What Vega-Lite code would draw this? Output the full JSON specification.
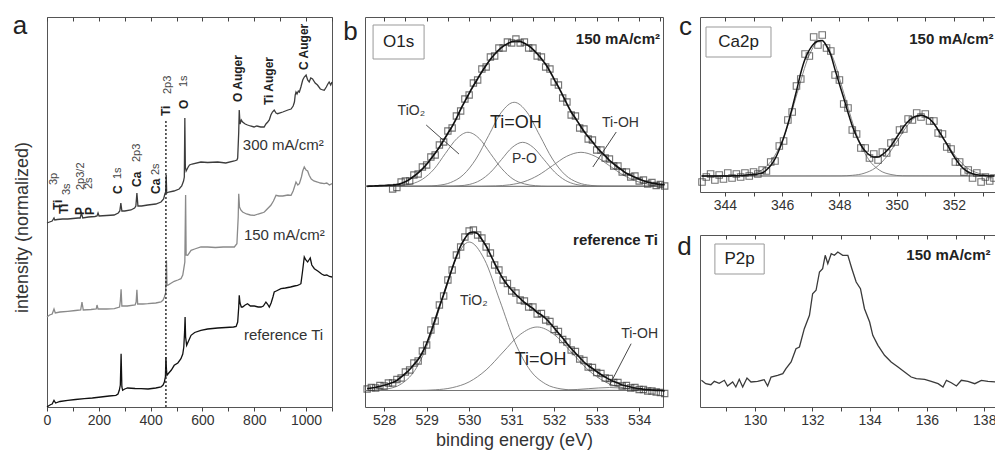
{
  "$schema": "https://vega.github.io/schema/vega-lite/v6.json",
  "padding": {"left": 12, "top": 12, "right": 0, "bottom": 0},
  "background": "white",
  "config": {
    "font": "Liberation Sans",
    "view": {"stroke": "#555", "strokeWidth": 1},
    "axis": {"domain": false, "grid": false, "tickColor": "#444", "tickSize": 4, "labelFontSize": 14, "labelColor": "#333", "labelPadding": 2, "titleFontWeight": "normal", "titleColor": "#333", "labelFlush": false, "labelOverlap": false, "minExtent": 0}
  },
  "datasets": {
    "specA": [
      {"s":"300","x":0,"y":184},{"s":"300","x":10,"y":185},{"s":"300","x":20,"y":186},{"s":"300","x":27,"y":189},{"s":"300","x":30,"y":187},{"s":"300","x":40,"y":187.5},{"s":"300","x":60,"y":188},{"s":"300","x":80,"y":188},{"s":"300","x":100,"y":188.5},{"s":"300","x":120,"y":189},{"s":"300","x":128,"y":189},{"s":"300","x":133,"y":194},{"s":"300","x":138,"y":189},{"s":"300","x":160,"y":190},{"s":"300","x":185,"y":190.5},{"s":"300","x":193,"y":191},{"s":"300","x":197,"y":194},{"s":"300","x":201,"y":191},{"s":"300","x":230,"y":191.5},{"s":"300","x":259,"y":192},{"s":"300","x":275,"y":194},{"s":"300","x":281,"y":196},{"s":"300","x":285,"y":204},{"s":"300","x":289,"y":196},{"s":"300","x":300,"y":196},{"s":"300","x":324,"y":197},{"s":"300","x":338,"y":199},{"s":"300","x":343,"y":201},{"s":"300","x":347,"y":214},{"s":"300","x":351,"y":201},{"s":"300","x":365,"y":201},{"s":"300","x":389,"y":202},{"s":"300","x":420,"y":203},{"s":"300","x":440,"y":205},{"s":"300","x":450,"y":208},{"s":"300","x":455,"y":213},{"s":"300","x":458,"y":215},{"s":"300","x":460,"y":232},{"s":"300","x":462,"y":214},{"s":"300","x":470,"y":215},{"s":"300","x":490,"y":216},{"s":"300","x":510,"y":218},{"s":"300","x":520,"y":221},{"s":"300","x":527,"y":226},{"s":"300","x":530,"y":230},{"s":"300","x":532,"y":289},{"s":"300","x":534,"y":240},{"s":"300","x":537,"y":236},{"s":"300","x":545,"y":240},{"s":"300","x":550,"y":242},{"s":"300","x":560,"y":243},{"s":"300","x":594,"y":245},{"s":"300","x":620,"y":244.5},{"s":"300","x":659,"y":245},{"s":"300","x":690,"y":244},{"s":"300","x":723,"y":246},{"s":"300","x":733,"y":247},{"s":"300","x":736,"y":249},{"s":"300","x":740,"y":275},{"s":"300","x":742,"y":297},{"s":"300","x":745,"y":283},{"s":"300","x":750,"y":287},{"s":"300","x":755,"y":285},{"s":"300","x":765,"y":283},{"s":"300","x":774,"y":282},{"s":"300","x":785,"y":281},{"s":"300","x":799,"y":280},{"s":"300","x":810,"y":281},{"s":"300","x":825,"y":280},{"s":"300","x":838,"y":280},{"s":"300","x":845,"y":283},{"s":"300","x":852,"y":285},{"s":"300","x":858,"y":287},{"s":"300","x":864,"y":292},{"s":"300","x":870,"y":295},{"s":"300","x":877,"y":297},{"s":"300","x":884,"y":294},{"s":"300","x":890,"y":293.3},{"s":"300","x":910,"y":295},{"s":"300","x":930,"y":297},{"s":"300","x":942,"y":298},{"s":"300","x":950,"y":301},{"s":"300","x":955,"y":305},{"s":"300","x":958,"y":312},{"s":"300","x":961,"y":315},{"s":"300","x":965,"y":313},{"s":"300","x":970,"y":316},{"s":"300","x":974,"y":315},{"s":"300","x":980,"y":320},{"s":"300","x":987,"y":327},{"s":"300","x":993,"y":330},{"s":"300","x":1000,"y":332},{"s":"300","x":1006,"y":327},{"s":"300","x":1012,"y":325},{"s":"300","x":1018,"y":329},{"s":"300","x":1025,"y":328},{"s":"300","x":1035,"y":324},{"s":"300","x":1044,"y":322},{"s":"300","x":1055,"y":318},{"s":"300","x":1065,"y":317},{"s":"300","x":1070,"y":316.7},{"s":"300","x":1078,"y":320},{"s":"300","x":1084,"y":323},{"s":"300","x":1089,"y":325},{"s":"300","x":1095,"y":322},{"s":"300","x":1100,"y":325},
      {"s":"150","x":0,"y":90},{"s":"150","x":10,"y":92},{"s":"150","x":20,"y":93},{"s":"150","x":27,"y":98},{"s":"150","x":32,"y":94},{"s":"150","x":50,"y":95},{"s":"150","x":80,"y":95.7},{"s":"150","x":110,"y":96.5},{"s":"150","x":130,"y":97},{"s":"150","x":135,"y":105},{"s":"150","x":140,"y":97},{"s":"150","x":170,"y":97.5},{"s":"150","x":190,"y":98},{"s":"150","x":193,"y":102},{"s":"150","x":197,"y":98},{"s":"150","x":230,"y":98},{"s":"150","x":260,"y":98.3},{"s":"150","x":280,"y":100},{"s":"150","x":283,"y":106},{"s":"150","x":286,"y":117.7},{"s":"150","x":289,"y":101},{"s":"150","x":310,"y":101},{"s":"150","x":340,"y":102},{"s":"150","x":344,"y":105},{"s":"150","x":347,"y":117.3},{"s":"150","x":350,"y":103},{"s":"150","x":370,"y":103},{"s":"150","x":389,"y":103.3},{"s":"150","x":420,"y":104},{"s":"150","x":440,"y":105},{"s":"150","x":448,"y":107},{"s":"150","x":453,"y":110},{"s":"150","x":458,"y":114},{"s":"150","x":461,"y":146.7},{"s":"150","x":463,"y":122},{"s":"150","x":466,"y":121.7},{"s":"150","x":480,"y":124},{"s":"150","x":491,"y":125.7},{"s":"150","x":505,"y":127},{"s":"150","x":517,"y":128.3},{"s":"150","x":524,"y":132},{"s":"150","x":528,"y":138.3},{"s":"150","x":532,"y":145},{"s":"150","x":535,"y":212},{"s":"150","x":537,"y":152},{"s":"150","x":543,"y":151.7},{"s":"150","x":556,"y":156.7},{"s":"150","x":570,"y":158},{"s":"150","x":594,"y":160},{"s":"150","x":620,"y":160},{"s":"150","x":650,"y":159.5},{"s":"150","x":680,"y":160},{"s":"150","x":700,"y":160},{"s":"150","x":723,"y":160},{"s":"150","x":733,"y":163.3},{"s":"150","x":738,"y":190},{"s":"150","x":740,"y":213.3},{"s":"150","x":743,"y":200},{"s":"150","x":748,"y":197},{"s":"150","x":755,"y":195},{"s":"150","x":770,"y":193},{"s":"150","x":785,"y":192},{"s":"150","x":800,"y":191.7},{"s":"150","x":815,"y":193},{"s":"150","x":830,"y":194},{"s":"150","x":839,"y":195},{"s":"150","x":850,"y":198},{"s":"150","x":864,"y":201.7},{"s":"150","x":874,"y":206},{"s":"150","x":884,"y":211.7},{"s":"150","x":895,"y":211},{"s":"150","x":910,"y":211},{"s":"150","x":930,"y":212},{"s":"150","x":942,"y":211.7},{"s":"150","x":950,"y":216},{"s":"150","x":955,"y":220},{"s":"150","x":961,"y":225},{"s":"150","x":968,"y":222},{"s":"150","x":974,"y":223.3},{"s":"150","x":982,"y":230},{"s":"150","x":987,"y":236},{"s":"150","x":993,"y":240},{"s":"150","x":1000,"y":237},{"s":"150","x":1006,"y":236},{"s":"150","x":1012,"y":231.7},{"s":"150","x":1020,"y":228},{"s":"150","x":1030,"y":226},{"s":"150","x":1044,"y":225},{"s":"150","x":1055,"y":224},{"s":"150","x":1070,"y":223.3},{"s":"150","x":1080,"y":224},{"s":"150","x":1090,"y":222},{"s":"150","x":1100,"y":223.3},
      {"s":"ref","x":0,"y":0},{"s":"ref","x":8,"y":1.5},{"s":"ref","x":15,"y":2.5},{"s":"ref","x":20,"y":3},{"s":"ref","x":27,"y":6.7},{"s":"ref","x":33,"y":4},{"s":"ref","x":50,"y":5.5},{"s":"ref","x":80,"y":6.7},{"s":"ref","x":110,"y":7.5},{"s":"ref","x":144,"y":8.3},{"s":"ref","x":175,"y":9},{"s":"ref","x":208,"y":10},{"s":"ref","x":240,"y":11},{"s":"ref","x":266,"y":11.7},{"s":"ref","x":274,"y":13},{"s":"ref","x":279,"y":16.7},{"s":"ref","x":283,"y":22},{"s":"ref","x":286,"y":53.3},{"s":"ref","x":289,"y":20},{"s":"ref","x":292,"y":16.7},{"s":"ref","x":300,"y":18},{"s":"ref","x":311,"y":19},{"s":"ref","x":340,"y":18.5},{"s":"ref","x":363,"y":18.3},{"s":"ref","x":390,"y":18},{"s":"ref","x":420,"y":19},{"s":"ref","x":440,"y":20},{"s":"ref","x":448,"y":22},{"s":"ref","x":453,"y":25},{"s":"ref","x":457,"y":30},{"s":"ref","x":459,"y":50},{"s":"ref","x":461,"y":38},{"s":"ref","x":463,"y":31.7},{"s":"ref","x":470,"y":34},{"s":"ref","x":480,"y":37},{"s":"ref","x":491,"y":41.7},{"s":"ref","x":505,"y":44},{"s":"ref","x":517,"y":48.3},{"s":"ref","x":524,"y":53},{"s":"ref","x":528,"y":60},{"s":"ref","x":531,"y":75},{"s":"ref","x":533,"y":90},{"s":"ref","x":535,"y":70},{"s":"ref","x":539,"y":61.7},{"s":"ref","x":548,"y":67},{"s":"ref","x":556,"y":71.7},{"s":"ref","x":570,"y":74.5},{"s":"ref","x":594,"y":76.7},{"s":"ref","x":620,"y":78},{"s":"ref","x":659,"y":79},{"s":"ref","x":690,"y":79.5},{"s":"ref","x":720,"y":80},{"s":"ref","x":730,"y":80.5},{"s":"ref","x":736,"y":85},{"s":"ref","x":740,"y":100},{"s":"ref","x":742,"y":111.7},{"s":"ref","x":745,"y":104},{"s":"ref","x":750,"y":100},{"s":"ref","x":755,"y":100},{"s":"ref","x":765,"y":102},{"s":"ref","x":774,"y":103.3},{"s":"ref","x":785,"y":101},{"s":"ref","x":800,"y":101},{"s":"ref","x":815,"y":100},{"s":"ref","x":826,"y":100},{"s":"ref","x":835,"y":101},{"s":"ref","x":845,"y":105},{"s":"ref","x":851,"y":103},{"s":"ref","x":858,"y":100},{"s":"ref","x":865,"y":104},{"s":"ref","x":872,"y":110},{"s":"ref","x":877,"y":115},{"s":"ref","x":885,"y":116},{"s":"ref","x":903,"y":118.3},{"s":"ref","x":920,"y":119},{"s":"ref","x":940,"y":120},{"s":"ref","x":955,"y":121},{"s":"ref","x":967,"y":121.7},{"s":"ref","x":975,"y":122.5},{"s":"ref","x":980,"y":123.3},{"s":"ref","x":986,"y":135},{"s":"ref","x":993,"y":150},{"s":"ref","x":999,"y":147},{"s":"ref","x":1006,"y":145},{"s":"ref","x":1011,"y":147},{"s":"ref","x":1016,"y":149},{"s":"ref","x":1022,"y":142},{"s":"ref","x":1032,"y":138.3},{"s":"ref","x":1045,"y":136},{"s":"ref","x":1060,"y":133},{"s":"ref","x":1070,"y":131.7},{"s":"ref","x":1080,"y":132},{"s":"ref","x":1090,"y":130.5},{"s":"ref","x":1100,"y":130}
    ],
    "labABold": [
      {"x":42,"y":197,"t":"Ti"},{"x":67.5,"y":193,"t":"Ti"},{"x":127,"y":192,"t":"P"},{"x":166,"y":192,"t":"P"},{"x":274,"y":213,"t":"C"},{"x":347,"y":220,"t":"Ca"},{"x":421,"y":213,"t":"Ca"},{"x":461,"y":291,"t":"Ti"},{"x":530,"y":298,"t":"O"},{"x":738,"y":305,"t":"O Auger"},{"x":858,"y":302,"t":"Ti Auger"},{"x":993,"y":337,"t":"C Auger"}
    ],
    "labAReg": [
      {"x":27,"y":222,"t":"3p"},{"x":77,"y":212,"t":"3s"},{"x":131,"y":217,"t":"2p3/2"},{"x":164,"y":218,"t":"2s"},{"x":274,"y":228,"t":"1s"},{"x":347,"y":245,"t":"2p3"},{"x":421,"y":232,"t":"2s"},{"x":466,"y":313,"t":"2p3"},{"x":530,"y":320,"t":"1s"}
    ],
    "labAH": [
      {"x":756,"y":262,"t":"300 mA/cm²"},{"x":760,"y":172,"t":"150 mA/cm²"},{"x":760,"y":72,"t":"reference Ti"}
    ],
    "bfit": [
      {"g":"u","x":527.6,"f":220.7},{"g":"u","x":527.7,"f":220.9},{"g":"u","x":527.8,"f":221.1},{"g":"u","x":527.9,"f":221.3},{"g":"u","x":528.0,"f":221.5},{"g":"u","x":528.1,"f":221.8},
      {"g":"u","x":528.2,"f":222.0,"o":218},{"g":"u","x":528.3,"f":222.3,"o":219.5},{"g":"u","x":528.4,"f":223.5,"o":225},{"g":"u","x":528.5,"f":225.2,"o":226},{"g":"u","x":528.6,"f":227.7,"o":226},{"g":"u","x":528.7,"f":230.7,"o":232},{"g":"u","x":528.8,"f":234.2,"o":233},{"g":"u","x":528.9,"f":238.2,"o":240},{"g":"u","x":529.0,"f":242.7,"o":242},{"g":"u","x":529.1,"f":248.2,"o":250},{"g":"u","x":529.2,"f":253.7,"o":252},{"g":"u","x":529.3,"f":259.7,"o":262},{"g":"u","x":529.4,"f":266.7,"o":265},{"g":"u","x":529.5,"f":273.7,"o":276},{"g":"u","x":529.6,"f":280.7,"o":279},{"g":"u","x":529.7,"f":288.7,"o":291},{"g":"u","x":529.8,"f":297.7,"o":296},{"g":"u","x":529.9,"f":305.7,"o":308},{"g":"u","x":530.0,"f":313.7,"o":312},{"g":"u","x":530.1,"f":321.2,"o":324},{"g":"u","x":530.2,"f":328.3,"o":327},{"g":"u","x":530.3,"f":335.2,"o":338},{"g":"u","x":530.4,"f":341.7,"o":340},{"g":"u","x":530.5,"f":347.7,"o":350},{"g":"u","x":530.6,"f":352.7,"o":351},{"g":"u","x":530.7,"f":357.2,"o":359},{"g":"u","x":530.8,"f":360.7,"o":359},{"g":"u","x":530.9,"f":363.2,"o":365},{"g":"u","x":531.0,"f":365.2,"o":364},{"g":"u","x":531.1,"f":366.0,"o":368},{"g":"u","x":531.2,"f":365.7,"o":364},{"g":"u","x":531.3,"f":363.7,"o":365},{"g":"u","x":531.4,"f":361.2,"o":359},{"g":"u","x":531.5,"f":357.7,"o":359},{"g":"u","x":531.6,"f":353.2,"o":351},{"g":"u","x":531.7,"f":348.2,"o":350},{"g":"u","x":531.8,"f":342.7,"o":340},{"g":"u","x":531.9,"f":335.7,"o":338},{"g":"u","x":532.0,"f":327.7,"o":325},{"g":"u","x":532.1,"f":320.2,"o":322},{"g":"u","x":532.2,"f":311.7,"o":309},{"g":"u","x":532.3,"f":303.2,"o":305},{"g":"u","x":532.4,"f":295.0,"o":292},{"g":"u","x":532.5,"f":288.7,"o":291},{"g":"u","x":532.6,"f":282.2,"o":279},{"g":"u","x":532.7,"f":275.7,"o":278},{"g":"u","x":532.8,"f":270.2,"o":268},{"g":"u","x":532.9,"f":265.2,"o":267},{"g":"u","x":533.0,"f":259.7,"o":257},{"g":"u","x":533.1,"f":255.2,"o":257},{"g":"u","x":533.2,"f":251.2,"o":249},{"g":"u","x":533.3,"f":246.7,"o":248},{"g":"u","x":533.4,"f":243.2,"o":241},{"g":"u","x":533.5,"f":239.7,"o":241},{"g":"u","x":533.6,"f":236.7,"o":235},{"g":"u","x":533.7,"f":233.7,"o":235},{"g":"u","x":533.8,"f":231.7,"o":230},{"g":"u","x":533.9,"f":229.7,"o":231},{"g":"u","x":534.0,"f":227.9,"o":226},{"g":"u","x":534.1,"f":226.2,"o":227},{"g":"u","x":534.2,"f":224.9,"o":223},{"g":"u","x":534.3,"f":223.9,"o":224.5},{"g":"u","x":534.4,"f":223.2,"o":221.5},{"g":"u","x":534.5,"f":222.7,"o":222.5},{"g":"u","x":534.6,"f":222.3,"o":221},
      {"g":"l","x":527.6,"f":18.3,"o":18},{"g":"l","x":527.7,"f":19.0,"o":19.5},{"g":"l","x":527.8,"f":19.7,"o":19},{"g":"l","x":527.9,"f":20.7,"o":21.5},{"g":"l","x":528.0,"f":21.7,"o":21},{"g":"l","x":528.1,"f":23.0,"o":24},{"g":"l","x":528.2,"f":24.5,"o":24},{"g":"l","x":528.3,"f":26.5,"o":27.5},{"g":"l","x":528.4,"f":30.0,"o":29},{"g":"l","x":528.5,"f":33.5,"o":35},{"g":"l","x":528.6,"f":37.5,"o":37},{"g":"l","x":528.7,"f":42.5,"o":44},{"g":"l","x":528.8,"f":47.5,"o":46},{"g":"l","x":528.9,"f":54.5,"o":56},{"g":"l","x":529.0,"f":63.5,"o":62},{"g":"l","x":529.1,"f":75.0,"o":77},{"g":"l","x":529.2,"f":87.5,"o":86},{"g":"l","x":529.3,"f":100.5,"o":102},{"g":"l","x":529.4,"f":112.5,"o":111},{"g":"l","x":529.5,"f":125.5,"o":127},{"g":"l","x":529.6,"f":138.5,"o":137},{"g":"l","x":529.7,"f":150.5,"o":152},{"g":"l","x":529.8,"f":161.0,"o":160},{"g":"l","x":529.9,"f":168.5,"o":170},{"g":"l","x":530.0,"f":174.0,"o":176},{"g":"l","x":530.1,"f":175.0,"o":177},{"g":"l","x":530.2,"f":173.3,"o":172},{"g":"l","x":530.3,"f":167.5,"o":169},{"g":"l","x":530.4,"f":161.0,"o":160},{"g":"l","x":530.5,"f":152.5,"o":154},{"g":"l","x":530.6,"f":143.5,"o":142},{"g":"l","x":530.7,"f":135.5,"o":137},{"g":"l","x":530.8,"f":128.0,"o":127},{"g":"l","x":530.9,"f":122.0,"o":123.5},{"g":"l","x":531.0,"f":117.0,"o":116},{"g":"l","x":531.1,"f":112.5,"o":114},{"g":"l","x":531.2,"f":108.5,"o":107},{"g":"l","x":531.3,"f":104.5,"o":106},{"g":"l","x":531.4,"f":101.5,"o":100},{"g":"l","x":531.5,"f":98.5,"o":100},{"g":"l","x":531.6,"f":94.5,"o":93},{"g":"l","x":531.7,"f":92.0,"o":93.5},{"g":"l","x":531.8,"f":88.5,"o":87},{"g":"l","x":531.9,"f":84.0,"o":85.5},{"g":"l","x":532.0,"f":79.0,"o":77.5},{"g":"l","x":532.1,"f":74.0,"o":75.5},{"g":"l","x":532.2,"f":69.0,"o":67.5},{"g":"l","x":532.3,"f":63.5,"o":65},{"g":"l","x":532.4,"f":58.5,"o":57},{"g":"l","x":532.5,"f":54.0,"o":55.5},{"g":"l","x":532.6,"f":49.5,"o":48},{"g":"l","x":532.7,"f":45.0,"o":46.5},{"g":"l","x":532.8,"f":41.5,"o":40},{"g":"l","x":532.9,"f":38.5,"o":39.5},{"g":"l","x":533.0,"f":35.5,"o":34.5},{"g":"l","x":533.1,"f":32.5,"o":33.5},{"g":"l","x":533.2,"f":30.0,"o":29},{"g":"l","x":533.3,"f":27.5,"o":28.5},{"g":"l","x":533.4,"f":25.5,"o":24.5},{"g":"l","x":533.5,"f":24.0,"o":24.5},{"g":"l","x":533.6,"f":22.0,"o":21},{"g":"l","x":533.7,"f":21.0,"o":21.5},{"g":"l","x":533.8,"f":20.0,"o":19},{"g":"l","x":533.9,"f":19.0,"o":19.5},{"g":"l","x":534.0,"f":18.3,"o":17.5},{"g":"l","x":534.1,"f":17.7,"o":17.5},{"g":"l","x":534.2,"f":17.3,"o":16},{"g":"l","x":534.3,"f":17.0,"o":16},{"g":"l","x":534.4,"f":16.7,"o":15},{"g":"l","x":534.5,"f":16.5,"o":14.5},{"g":"l","x":534.6,"f":16.0,"o":13.5}
    ],
    "bcomp": [
      {"c":"u1","x":527.55,"y":220.7},{"c":"u1","x":528.11,"y":220.8},{"c":"u1","x":528.38,"y":221.3},{"c":"u1","x":528.65,"y":223.1},{"c":"u1","x":528.91,"y":228.0},{"c":"u1","x":529.18,"y":238.2},{"c":"u1","x":529.44,"y":253.5},{"c":"u1","x":529.71,"y":268.4},{"c":"u1","x":529.97,"y":274.7},{"c":"u1","x":530.24,"y":268.4},{"c":"u1","x":530.5,"y":253.5},{"c":"u1","x":530.77,"y":238.2},{"c":"u1","x":531.03,"y":228.0},{"c":"u1","x":531.3,"y":223.1},{"c":"u1","x":531.56,"y":221.3},{"c":"u1","x":531.83,"y":220.8},{"c":"u1","x":534.56,"y":220.7},
      {"c":"u2","x":527.55,"y":220.7},{"c":"u2","x":528.96,"y":220.8},{"c":"u2","x":529.26,"y":221.6},{"c":"u2","x":529.56,"y":224.4},{"c":"u2","x":529.86,"y":232.1},{"c":"u2","x":530.16,"y":248.0},{"c":"u2","x":530.46,"y":271.6},{"c":"u2","x":530.76,"y":294.8},{"c":"u2","x":531.06,"y":304.7},{"c":"u2","x":531.36,"y":294.8},{"c":"u2","x":531.66,"y":271.6},{"c":"u2","x":531.96,"y":248.0},{"c":"u2","x":532.26,"y":232.1},{"c":"u2","x":532.56,"y":224.4},{"c":"u2","x":532.86,"y":221.6},{"c":"u2","x":533.16,"y":220.8},{"c":"u2","x":534.56,"y":220.7},
      {"c":"u3","x":527.55,"y":220.7},{"c":"u3","x":529.51,"y":220.8},{"c":"u3","x":529.76,"y":221.2},{"c":"u3","x":530.01,"y":222.6},{"c":"u3","x":530.26,"y":226.7},{"c":"u3","x":530.51,"y":235.0},{"c":"u3","x":530.76,"y":247.4},{"c":"u3","x":531.01,"y":259.5},{"c":"u3","x":531.26,"y":264.7},{"c":"u3","x":531.51,"y":259.5},{"c":"u3","x":531.76,"y":247.4},{"c":"u3","x":532.01,"y":235.0},{"c":"u3","x":532.26,"y":226.7},{"c":"u3","x":532.51,"y":222.6},{"c":"u3","x":532.76,"y":221.2},{"c":"u3","x":533.01,"y":220.8},{"c":"u3","x":534.56,"y":220.7},
      {"c":"u4","x":527.55,"y":220.7},{"c":"u4","x":530.29,"y":220.8},{"c":"u4","x":530.62,"y":221.1},{"c":"u4","x":530.955,"y":222.2},{"c":"u4","x":531.29,"y":225.3},{"c":"u4","x":531.625,"y":231.7},{"c":"u4","x":531.96,"y":241.3},{"c":"u4","x":532.295,"y":250.7},{"c":"u4","x":532.63,"y":254.7},{"c":"u4","x":532.965,"y":250.7},{"c":"u4","x":533.3,"y":241.3},{"c":"u4","x":533.635,"y":231.7},{"c":"u4","x":533.97,"y":225.3},{"c":"u4","x":534.305,"y":222.2},{"c":"u4","x":534.56,"y":221.2},
      {"c":"l1","x":527.55,"y":16.5},{"c":"l1","x":527.76,"y":16.8},{"c":"l1","x":528.08,"y":18.1},{"c":"l1","x":528.4,"y":23.0},{"c":"l1","x":528.72,"y":36.5},{"c":"l1","x":529.04,"y":64.5},{"c":"l1","x":529.36,"y":106.5},{"c":"l1","x":529.68,"y":147.5},{"c":"l1","x":530.0,"y":165.0},{"c":"l1","x":530.36,"y":147.5},{"c":"l1","x":530.72,"y":106.5},{"c":"l1","x":531.08,"y":64.5},{"c":"l1","x":531.44,"y":36.5},{"c":"l1","x":531.8,"y":23.0},{"c":"l1","x":532.16,"y":18.1},{"c":"l1","x":532.52,"y":16.8},{"c":"l1","x":534.56,"y":16.5},
      {"c":"l2","x":527.55,"y":16.5},{"c":"l2","x":528.8,"y":16.6},{"c":"l2","x":529.2,"y":17.2},{"c":"l2","x":529.6,"y":19.3},{"c":"l2","x":530.0,"y":25.1},{"c":"l2","x":530.4,"y":37.1},{"c":"l2","x":530.8,"y":55.0},{"c":"l2","x":531.2,"y":72.5},{"c":"l2","x":531.6,"y":80.0},{"c":"l2","x":532.0,"y":72.5},{"c":"l2","x":532.4,"y":55.0},{"c":"l2","x":532.8,"y":37.1},{"c":"l2","x":533.2,"y":25.1},{"c":"l2","x":533.6,"y":19.3},{"c":"l2","x":534.0,"y":17.2},{"c":"l2","x":534.4,"y":16.6},{"c":"l2","x":534.56,"y":16.5},
      {"c":"l3","x":527.55,"y":16.5},{"c":"l3","x":532.0,"y":16.5},{"c":"l3","x":532.3,"y":16.9},{"c":"l3","x":532.8,"y":18.3},{"c":"l3","x":533.3,"y":19.5},{"c":"l3","x":533.8,"y":18.3},{"c":"l3","x":534.3,"y":16.9},{"c":"l3","x":534.56,"y":16.6}
    ],
    "cfit": [
      {"x":343.2,"f":16,"o":10},{"x":343.35,"f":16,"o":15},{"x":343.5,"f":16,"o":18},{"x":343.65,"f":16,"o":12},{"x":343.8,"f":16,"o":17},{"x":343.95,"f":16,"o":13},{"x":344.1,"f":16,"o":19},{"x":344.25,"f":16.2,"o":14},{"x":344.4,"f":16.3,"o":18},{"x":344.55,"f":16.5,"o":15},{"x":344.7,"f":16.8,"o":19},{"x":344.85,"f":17.2,"o":16},{"x":345.0,"f":17.5,"o":20},{"x":345.15,"f":18,"o":18},{"x":345.3,"f":19,"o":22},{"x":345.45,"f":22,"o":21},{"x":345.6,"f":26.5,"o":30},{"x":345.75,"f":33,"o":31},{"x":345.9,"f":42.5,"o":46},{"x":346.05,"f":54,"o":51},{"x":346.2,"f":68,"o":72},{"x":346.35,"f":84,"o":80},{"x":346.5,"f":101,"o":106},{"x":346.65,"f":119,"o":113},{"x":346.8,"f":133,"o":138},{"x":346.95,"f":142,"o":136},{"x":347.1,"f":148,"o":155},{"x":347.25,"f":151,"o":147},{"x":347.4,"f":151.5,"o":157},{"x":347.55,"f":146,"o":144},{"x":347.7,"f":137,"o":141},{"x":347.85,"f":122,"o":117},{"x":348.0,"f":108,"o":112},{"x":348.15,"f":94,"o":88},{"x":348.3,"f":79.5,"o":84},{"x":348.45,"f":66,"o":62},{"x":348.6,"f":55.5,"o":58},{"x":348.75,"f":47,"o":44},{"x":348.9,"f":41,"o":44},{"x":349.05,"f":37,"o":34},{"x":349.2,"f":35,"o":38},{"x":349.35,"f":35,"o":32},{"x":349.5,"f":37.5,"o":40},{"x":349.65,"f":41,"o":39},{"x":349.8,"f":46,"o":49},{"x":349.95,"f":52.5,"o":50},{"x":350.1,"f":59,"o":62},{"x":350.25,"f":65.5,"o":63},{"x":350.4,"f":70.5,"o":73},{"x":350.55,"f":74,"o":72},{"x":350.7,"f":76,"o":79},{"x":350.85,"f":76.7,"o":75},{"x":351.0,"f":75.5,"o":78},{"x":351.15,"f":73,"o":71},{"x":351.3,"f":68.5,"o":71},{"x":351.45,"f":62,"o":59},{"x":351.6,"f":55,"o":58},{"x":351.75,"f":48,"o":45},{"x":351.9,"f":40.5,"o":43},{"x":352.05,"f":33.5,"o":30},{"x":352.2,"f":27.5,"o":30},{"x":352.35,"f":23,"o":20},{"x":352.5,"f":20,"o":22},{"x":352.65,"f":18.3,"o":14},{"x":352.8,"f":17.2,"o":19},{"x":352.95,"f":16.6,"o":10},{"x":353.1,"f":16.3,"o":15},{"x":353.25,"f":16,"o":11},{"x":353.4,"f":16,"o":14}
    ],
    "ccomp": [
      {"c":"1","x":343.13,"y":16},{"c":"1","x":344.47,"y":16.2},{"c":"1","x":344.88,"y":17.5},{"c":"1","x":345.29,"y":22},{"c":"1","x":345.7,"y":34.4},{"c":"1","x":346.12,"y":60},{"c":"1","x":346.52,"y":98.3},{"c":"1","x":346.93,"y":135.8},{"c":"1","x":347.34,"y":151.7},{"c":"1","x":347.75,"y":135.8},{"c":"1","x":348.16,"y":98.3},{"c":"1","x":348.57,"y":60},{"c":"1","x":348.98,"y":34.4},{"c":"1","x":349.39,"y":22},{"c":"1","x":349.8,"y":17.5},{"c":"1","x":350.21,"y":16.2},{"c":"1","x":353.47,"y":16},
      {"c":"2","x":343.13,"y":16},{"c":"2","x":348.06,"y":16.1},{"c":"2","x":348.46,"y":16.7},{"c":"2","x":348.86,"y":18.7},{"c":"2","x":349.26,"y":24.2},{"c":"2","x":349.66,"y":35.7},{"c":"2","x":350.06,"y":52.8},{"c":"2","x":350.46,"y":69.6},{"c":"2","x":350.86,"y":76.7},{"c":"2","x":351.26,"y":69.6},{"c":"2","x":351.66,"y":52.8},{"c":"2","x":352.06,"y":35.7},{"c":"2","x":352.46,"y":24.2},{"c":"2","x":352.86,"y":18.7},{"c":"2","x":353.26,"y":16.7},{"c":"2","x":353.47,"y":16.3}
    ],
    "dline": [
      {"x":128.13,"y":26.7},{"x":128.28,"y":23.3},{"x":128.46,"y":22.3},{"x":128.58,"y":25.7},{"x":128.75,"y":23.7},{"x":128.93,"y":26.7},{"x":129.04,"y":21},{"x":129.22,"y":25},{"x":129.33,"y":20},{"x":129.45,"y":27.7},{"x":129.57,"y":20},{"x":129.72,"y":29},{"x":129.86,"y":25},{"x":130.09,"y":25.7},{"x":130.32,"y":27.3},{"x":130.44,"y":21},{"x":130.56,"y":30},{"x":130.79,"y":31.7},{"x":130.97,"y":33.3},{"x":131.08,"y":38.3},{"x":131.26,"y":45},{"x":131.43,"y":58.3},{"x":131.55,"y":60},{"x":131.72,"y":78.3},{"x":131.9,"y":91.7},{"x":132.01,"y":113.3},{"x":132.13,"y":116.7},{"x":132.25,"y":135},{"x":132.36,"y":138.3},{"x":132.45,"y":151.7},{"x":132.54,"y":143.3},{"x":132.66,"y":153.3},{"x":132.77,"y":151.7},{"x":132.89,"y":155},{"x":133.06,"y":151.7},{"x":133.24,"y":151.7},{"x":133.38,"y":138.3},{"x":133.53,"y":125},{"x":133.68,"y":118.3},{"x":133.82,"y":98.3},{"x":134.0,"y":85},{"x":134.11,"y":71.7},{"x":134.29,"y":61.7},{"x":134.52,"y":51.7},{"x":134.75,"y":45},{"x":134.99,"y":40},{"x":135.22,"y":35},{"x":135.45,"y":30},{"x":135.63,"y":28.3},{"x":135.92,"y":27.7},{"x":136.15,"y":25.7},{"x":136.39,"y":23.3},{"x":136.56,"y":20},{"x":136.68,"y":26.7},{"x":136.85,"y":24.3},{"x":137.03,"y":21},{"x":137.2,"y":26.7},{"x":137.43,"y":25.7},{"x":137.67,"y":23.3},{"x":137.9,"y":26.7},{"x":138.13,"y":25.7},{"x":138.4,"y":25}
    ]
  },
  "hconcat": [
    {
      "width": 285, "height": 390,
      "resolve": {"axis": {"x": "independent", "y": "independent"}},
      "layer": [
        {
          "data": {"name": "specA"},
          "mark": {"type": "line", "strokeWidth": 1.3},
          "encoding": {
            "x": {"field": "x", "type": "quantitative", "scale": {"domain": [0, 1100], "nice": false, "zero": false}, "axis": {"values": [0,100,200,300,400,500,600,700,800,900,1000,1100], "format": "d", "labelExpr": "datum.value % 200 === 0 ? datum.label : ''", "title": null}},
            "y": {"field": "y", "type": "quantitative", "scale": {"domain": [0, 390], "nice": false, "zero": false}, "axis": {"title": "intensity (normalized)", "labels": false, "ticks": false, "titleFontSize": 18, "titlePadding": 16, "titleY": 210}},
            "color": {"field": "s", "type": "nominal", "scale": {"domain": ["300", "150", "ref"], "range": ["#3c3c3c", "#8a8a8a", "#111111"]}, "legend": null}
          }
        },
        {
          "data": {"values": [{"x": 459, "y": 0, "y2": 287}]},
          "mark": {"type": "rule", "strokeDash": [2, 2], "strokeWidth": 1.4, "color": "#222"},
          "encoding": {
            "x": {"field": "x", "type": "quantitative", "axis": {"orient": "top", "values": [0,100,200,300,400,500,600,700,800,900,1000,1100], "labels": false, "tickSize": -4, "title": null}},
            "y": {"field": "y", "type": "quantitative", "axis": null},
            "y2": {"field": "y2"}
          }
        },
        {
          "data": {"name": "labABold"},
          "mark": {"type": "text", "angle": 270, "align": "left", "baseline": "middle", "fontWeight": "bold", "fontSize": 12, "color": "#222"},
          "encoding": {"x": {"field": "x", "type": "quantitative", "axis": null}, "y": {"field": "y", "type": "quantitative", "axis": null}, "text": {"field": "t"}}
        },
        {
          "data": {"name": "labAReg"},
          "mark": {"type": "text", "angle": 270, "align": "left", "baseline": "middle", "fontSize": 11, "color": "#444"},
          "encoding": {"x": {"field": "x", "type": "quantitative", "axis": null}, "y": {"field": "y", "type": "quantitative", "axis": null}, "text": {"field": "t"}}
        },
        {
          "data": {"name": "labAH"},
          "mark": {"type": "text", "align": "left", "baseline": "middle", "fontSize": 15, "color": "#333"},
          "encoding": {"x": {"field": "x", "type": "quantitative", "axis": null}, "y": {"field": "y", "type": "quantitative", "axis": null}, "text": {"field": "t"}}
        },
        {
          "data": {"values": [{"x": -104, "y": 373, "t": "a"}]},
          "mark": {"type": "text", "align": "center", "baseline": "alphabetic", "fontSize": 26, "color": "#222"},
          "encoding": {"x": {"field": "x", "type": "quantitative", "axis": null}, "y": {"field": "y", "type": "quantitative", "axis": null}, "text": {"field": "t"}}
        }
      ]
    },
    {
      "spacing": 37,
      "bounds": "flush",
      "hconcat": [
        {
          "width": 298, "height": 390,
          "resolve": {"axis": {"x": "independent"}},
          "layer": [
            {
              "data": {"values": [{"y": 220.7}, {"y": 16.5}]},
              "mark": {"type": "rule", "color": "#666", "strokeWidth": 1},
              "encoding": {"y": {"field": "y", "type": "quantitative", "scale": {"domain": [0, 390], "nice": false, "zero": false}, "axis": null}}
            },
            {
              "data": {"name": "bcomp"},
              "mark": {"type": "line", "color": "#777", "strokeWidth": 0.9, "interpolate": "monotone"},
              "encoding": {
                "x": {"field": "x", "type": "quantitative", "scale": {"domain": [527.55, 534.56], "nice": false, "zero": false}, "axis": {"orient": "top", "values": [528,528.5,529,529.5,530,530.5,531,531.5,532,532.5,533,533.5,534,534.5], "labels": false, "tickSize": -4, "title": null}},
                "y": {"field": "y", "type": "quantitative", "axis": null},
                "detail": {"field": "c"}
              }
            },
            {
              "data": {"name": "bfit"},
              "mark": {"type": "point", "shape": "square", "filled": false, "size": 40, "strokeWidth": 1.1, "color": "#3a3a3a"},
              "encoding": {"x": {"field": "x", "type": "quantitative", "axis": null}, "y": {"field": "o", "type": "quantitative", "axis": null}}
            },
            {
              "data": {"name": "bfit"},
              "mark": {"type": "line", "color": "#111", "strokeWidth": 1.7, "interpolate": "monotone"},
              "encoding": {
                "x": {"field": "x", "type": "quantitative", "axis": {"values": [528,528.5,529,529.5,530,530.5,531,531.5,532,532.5,533,533.5,534,534.5], "format": "d", "labelExpr": "datum.value % 1 === 0 ? datum.label : ''", "title": "binding energy (eV)", "titleFontSize": 18, "titlePadding": 4}},
                "y": {"field": "f", "type": "quantitative", "axis": null},
                "detail": {"field": "g"}
              }
            },
            {
              "data": {"values": [{"x": 528.99, "y": 282, "x2": 529.76, "y2": 253}, {"x": 533.46, "y": 275, "x2": 532.91, "y2": 240}, {"x": 533.81, "y": 63.3, "x2": 533.3, "y2": 21.7}]},
              "mark": {"type": "rule", "color": "#333", "strokeWidth": 0.9},
              "encoding": {"x": {"field": "x", "type": "quantitative", "axis": null}, "y": {"field": "y", "type": "quantitative", "axis": null}, "x2": {"field": "x2"}, "y2": {"field": "y2"}}
            },
            {
              "data": {"values": [{"x": 528.64, "y": 296, "t": "TiO₂"}, {"x": 531.3, "y": 248.5, "t": "P-O"}, {"x": 533.56, "y": 284, "t": "Ti-OH"}, {"x": 530.11, "y": 106, "t": "TiO₂"}, {"x": 534.01, "y": 73, "t": "Ti-OH"}]},
              "mark": {"type": "text", "align": "center", "baseline": "middle", "fontSize": 14, "color": "#333"},
              "encoding": {"x": {"field": "x", "type": "quantitative", "axis": null}, "y": {"field": "y", "type": "quantitative", "axis": null}, "text": {"field": "t"}}
            },
            {
              "data": {"values": [{"x": 531.1, "y": 284, "t": "Ti=OH"}, {"x": 531.68, "y": 47, "t": "Ti=OH"}]},
              "mark": {"type": "text", "align": "center", "baseline": "middle", "fontSize": 18, "color": "#222"},
              "encoding": {"x": {"field": "x", "type": "quantitative", "axis": null}, "y": {"field": "y", "type": "quantitative", "axis": null}, "text": {"field": "t"}}
            },
            {
              "data": {"values": [{"x": 534.49, "y": 368, "t": "150 mA/cm²"}, {"x": 534.44, "y": 167, "t": "reference Ti"}]},
              "mark": {"type": "text", "align": "right", "baseline": "middle", "fontSize": 15, "fontWeight": "bold", "color": "#222"},
              "encoding": {"x": {"field": "x", "type": "quantitative", "axis": null}, "y": {"field": "y", "type": "quantitative", "axis": null}, "text": {"field": "t"}}
            },
            {
              "data": {"values": [{"x": 527.74, "x2": 528.94, "y": 348, "y2": 382}]},
              "mark": {"type": "rect", "fill": "white", "stroke": "#999", "strokeWidth": 1},
              "encoding": {"x": {"field": "x", "type": "quantitative", "axis": null}, "y": {"field": "y", "type": "quantitative", "axis": null}, "x2": {"field": "x2"}, "y2": {"field": "y2"}}
            },
            {
              "data": {"values": [{"x": 528.34, "y": 365, "t": "O1s"}]},
              "mark": {"type": "text", "align": "center", "baseline": "middle", "fontSize": 17, "color": "#222"},
              "encoding": {"x": {"field": "x", "type": "quantitative", "axis": null}, "y": {"field": "y", "type": "quantitative", "axis": null}, "text": {"field": "t"}}
            },
            {
              "data": {"values": [{"x": 527.21, "y": 367, "t": "b"}]},
              "mark": {"type": "text", "align": "center", "baseline": "alphabetic", "fontSize": 26, "color": "#222"},
              "encoding": {"x": {"field": "x", "type": "quantitative", "axis": null}, "y": {"field": "y", "type": "quantitative", "axis": null}, "text": {"field": "t"}}
            }
          ]
        },
        {
          "spacing": 43,
          "bounds": "flush",
          "vconcat": [
            {
              "width": 296, "height": 175,
              "resolve": {"axis": {"x": "independent"}},
              "layer": [
                {
                  "data": {"values": [{"y": 16}]},
                  "mark": {"type": "rule", "color": "#888", "strokeWidth": 1},
                  "encoding": {"y": {"field": "y", "type": "quantitative", "scale": {"domain": [0, 175], "nice": false, "zero": false}, "axis": null}}
                },
                {
                  "data": {"name": "ccomp"},
                  "mark": {"type": "line", "color": "#777", "strokeWidth": 0.9, "interpolate": "monotone"},
                  "encoding": {
                    "x": {"field": "x", "type": "quantitative", "scale": {"domain": [343.13, 353.47], "nice": false, "zero": false}, "axis": {"orient": "top", "values": [344,345,346,347,348,349,350,351,352,353], "labels": false, "tickSize": -4, "title": null}},
                    "y": {"field": "y", "type": "quantitative", "axis": null},
                    "detail": {"field": "c"}
                  }
                },
                {
                  "data": {"name": "cfit"},
                  "mark": {"type": "point", "shape": "square", "filled": false, "size": 42, "strokeWidth": 1.1, "color": "#3a3a3a"},
                  "encoding": {"x": {"field": "x", "type": "quantitative", "axis": null}, "y": {"field": "o", "type": "quantitative", "axis": null}}
                },
                {
                  "data": {"name": "cfit"},
                  "mark": {"type": "line", "color": "#111", "strokeWidth": 1.5, "interpolate": "monotone"},
                  "encoding": {
                    "x": {"field": "x", "type": "quantitative", "axis": {"values": [344,345,346,347,348,349,350,351,352,353], "format": "d", "labelExpr": "datum.value % 2 === 0 ? datum.label : ''", "title": null}},
                    "y": {"field": "f", "type": "quantitative", "axis": null}
                  }
                },
                {
                  "data": {"values": [{"x": 343.34, "x2": 345.61, "y": 135, "y2": 165}]},
                  "mark": {"type": "rect", "fill": "white", "stroke": "#999", "strokeWidth": 1},
                  "encoding": {"x": {"field": "x", "type": "quantitative", "axis": null}, "y": {"field": "y", "type": "quantitative", "axis": null}, "x2": {"field": "x2"}, "y2": {"field": "y2"}}
                },
                {
                  "data": {"values": [{"x": 344.48, "y": 150, "t": "Ca2p"}]},
                  "mark": {"type": "text", "align": "center", "baseline": "middle", "fontSize": 17, "color": "#222"},
                  "encoding": {"x": {"field": "x", "type": "quantitative", "axis": null}, "y": {"field": "y", "type": "quantitative", "axis": null}, "text": {"field": "t"}}
                },
                {
                  "data": {"values": [{"x": 350.44, "y": 153, "t": "150 mA/cm²"}]},
                  "mark": {"type": "text", "align": "left", "baseline": "middle", "fontSize": 15, "fontWeight": "bold", "color": "#222"},
                  "encoding": {"x": {"field": "x", "type": "quantitative", "axis": null}, "y": {"field": "y", "type": "quantitative", "axis": null}, "text": {"field": "t"}}
                },
                {
                  "data": {"values": [{"x": 342.62, "y": 157, "t": "c"}]},
                  "mark": {"type": "text", "align": "center", "baseline": "alphabetic", "fontSize": 26, "color": "#222"},
                  "encoding": {"x": {"field": "x", "type": "quantitative", "axis": null}, "y": {"field": "y", "type": "quantitative", "axis": null}, "text": {"field": "t"}}
                }
              ]
            },
            {
              "width": 296, "height": 172,
              "resolve": {"axis": {"x": "independent"}},
              "layer": [
                {
                  "data": {"name": "dline"},
                  "mark": {"type": "line", "color": "#3a3a3a", "strokeWidth": 1.3},
                  "encoding": {
                    "x": {"field": "x", "type": "quantitative", "scale": {"domain": [128.08, 138.41], "nice": false, "zero": false}, "axis": {"values": [129,130,131,132,133,134,135,136,137,138], "format": "d", "labelExpr": "datum.value % 2 === 0 ? datum.label : ''", "title": null}},
                    "y": {"field": "y", "type": "quantitative", "scale": {"domain": [0, 172], "nice": false, "zero": false}, "axis": null}
                  }
                },
                {
                  "data": {"values": [{"x": 128.6, "x2": 130.32, "y": 133, "y2": 163}]},
                  "mark": {"type": "rect", "fill": "white", "stroke": "#999", "strokeWidth": 1},
                  "encoding": {"x": {"field": "x", "type": "quantitative", "axis": {"orient": "top", "values": [129,130,131,132,133,134,135,136,137,138], "labels": false, "tickSize": -4, "title": null}}, "y": {"field": "y", "type": "quantitative", "axis": null}, "x2": {"field": "x2"}, "y2": {"field": "y2"}}
                },
                {
                  "data": {"values": [{"x": 129.46, "y": 148, "t": "P2p"}]},
                  "mark": {"type": "text", "align": "center", "baseline": "middle", "fontSize": 17, "color": "#222"},
                  "encoding": {"x": {"field": "x", "type": "quantitative", "axis": null}, "y": {"field": "y", "type": "quantitative", "axis": null}, "text": {"field": "t"}}
                },
                {
                  "data": {"values": [{"x": 135.28, "y": 152, "t": "150 mA/cm²"}]},
                  "mark": {"type": "text", "align": "left", "baseline": "middle", "fontSize": 15, "fontWeight": "bold", "color": "#222"},
                  "encoding": {"x": {"field": "x", "type": "quantitative", "axis": null}, "y": {"field": "y", "type": "quantitative", "axis": null}, "text": {"field": "t"}}
                },
                {
                  "data": {"values": [{"x": 127.54, "y": 152, "t": "d"}]},
                  "mark": {"type": "text", "align": "center", "baseline": "alphabetic", "fontSize": 26, "color": "#222"},
                  "encoding": {"x": {"field": "x", "type": "quantitative", "axis": null}, "y": {"field": "y", "type": "quantitative", "axis": null}, "text": {"field": "t"}}
                }
              ]
            }
          ]
        }
      ]
    }
  ],
  "spacing": 33,
  "bounds": "flush"
}
